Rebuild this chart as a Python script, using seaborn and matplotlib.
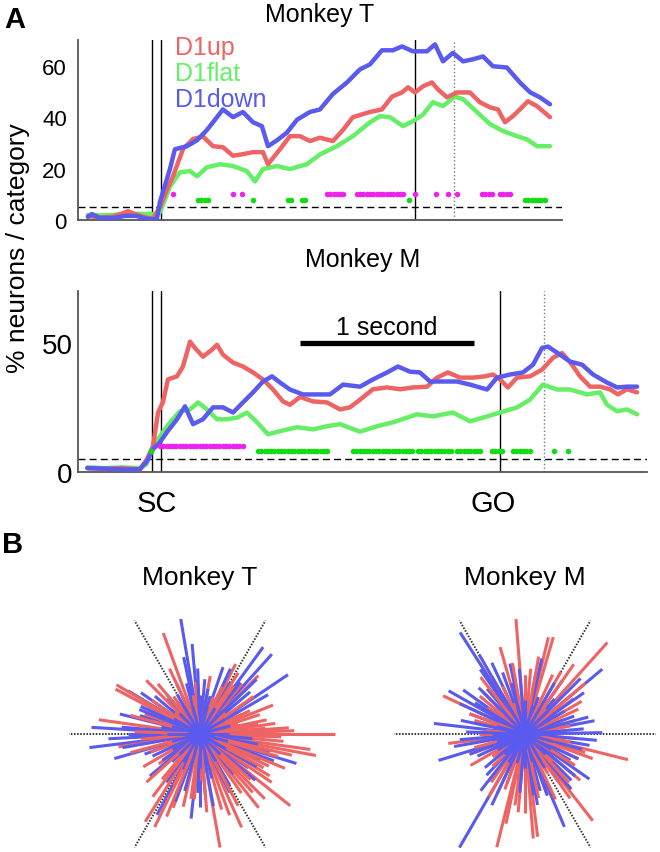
import numpy as np
import pandas as pd
import matplotlib
matplotlib.use("Agg")
import matplotlib.pyplot as plt
import seaborn as sns

# colours
RED = '#EE6464'
GREEN = '#66EE66'
BLUE = '#5A5AEE'
MAG = '#EE22EE'
DOTGREEN = '#11DD11'

# ---------------- Panel A, Monkey T (time in s from SC) ----------------
t_up_T = [-0.397, -0.328, -0.259, -0.201, -0.167, -0.121, -0.069, -0.023, 0.017, 0.052, 0.092,
          0.149, 0.207, 0.264, 0.322, 0.379, 0.437, 0.494, 0.552, 0.609, 0.638, 0.707, 0.764,
          0.822, 0.879, 0.937, 1.011, 1.069, 1.126, 1.224, 1.293, 1.351, 1.408, 1.443, 1.483,
          1.529, 1.580, 1.615, 1.667, 1.724, 1.799, 1.856, 1.914, 1.960, 2.000, 2.046, 2.086,
          2.132, 2.184, 2.259]
v_up_T = [1.5, 1.0, 1.2, 2.5, 3.4, 2.2, 1.0, 0.5, 5, 11, 17,
          27.5, 31.5, 32.5, 28.7, 28.3, 25, 25.6, 26.4, 26.4, 21.7, 27.5, 32.6,
          32.6, 30.7, 32, 30.7, 35, 40, 42, 43, 48, 49.6, 51.6, 49.6,
          52, 53.5, 50.8, 47.7, 49.6, 49.6, 45.8, 43.8, 43, 38, 40.4, 43,
          46.2, 44.3, 40]

t_flat_T = [-0.397, -0.30, -0.20, -0.10, -0.02, 0.017, 0.075, 0.132, 0.190, 0.230, 0.287,
            0.362, 0.437, 0.517, 0.563, 0.609, 0.690, 0.764, 0.862, 0.937, 1.034, 1.126,
            1.224, 1.282, 1.339, 1.414, 1.471, 1.529, 1.586, 1.644, 1.713, 1.759, 1.839,
            1.914, 1.989, 2.069, 2.126, 2.184, 2.259]
v_flat_T = [2, 1.8, 2.2, 2.4, 2.3, 3, 13, 18.6, 19, 17, 20.5,
            21.7, 21, 19, 15, 19.8, 21, 19.8, 21.7, 25.5, 28.7, 32.6,
            38, 40.4, 40, 36.5, 38.4, 41, 45.8, 44.3, 48, 47, 42,
            37.3, 34.6, 32.6, 31.4, 28.7, 28.7]

t_down_T = [-0.397, -0.374, -0.33, -0.25, -0.18, -0.12, -0.06, -0.02, 0.0, 0.017, 0.075,
            0.103, 0.172, 0.230, 0.287, 0.345, 0.379, 0.437, 0.494, 0.552, 0.603, 0.638,
            0.690, 0.747, 0.805, 0.879, 0.937, 1.011, 1.092, 1.167, 1.224, 1.293, 1.356,
            1.408, 1.471, 1.552, 1.598, 1.644, 1.701, 1.759, 1.816, 1.874, 1.931, 2.011,
            2.086, 2.144, 2.201, 2.259]
v_down_T = [1.2, 2.3, 0.8, 0.8, 1.6, 1.6, 0.5, 0.3, 0.5, 7, 20,
            27.5, 28.7, 31, 35, 40, 43, 40, 42, 38, 36.5, 28.7,
            31, 34, 39, 42, 43, 49, 53.5, 58.6, 60.5, 66, 66,
            67.5, 65.6, 65.6, 68.3, 61.7, 65, 61.7, 62.5, 63.6, 59.8, 59.3,
            53.5, 49.7, 47.7, 45]

# significance segments (start, end) in s
sig_mag_T = [(0.092, 0.092), (0.437, 0.437), (0.489, 0.489), (0.977, 1.086), (1.149, 1.425),
             (1.483, 1.483), (1.603, 1.603), (1.672, 1.672), (1.724, 1.724), (1.868, 1.925),
             (1.971, 2.046)]
sig_green_T = [(0.236, 0.293), (0.552, 0.552), (0.753, 0.782), (0.833, 0.862), (1.448, 1.448),
               (2.115, 2.230)]

# ---------------- Panel A, Monkey M ----------------
t_up_M = [-0.40, -0.30, -0.20, -0.098, -0.057, -0.023, 0.006, 0.034, 0.063, 0.115, 0.149,
          0.190, 0.218, 0.264, 0.316, 0.345, 0.379, 0.437, 0.494, 0.552, 0.609, 0.667,
          0.724, 0.764, 0.822, 0.897, 0.977, 1.052, 1.109, 1.167, 1.241, 1.322, 1.397,
          1.471, 1.552, 1.609, 1.672, 1.741, 1.816, 1.885, 1.931, 1.971, 2.017, 2.069,
          2.144, 2.213, 2.276, 2.328, 2.385, 2.431, 2.489, 2.546, 2.603, 2.649, 2.701, 2.759]
v_up_M = [1.5, 1.2, 1.5, 1.0, 5, 10, 23, 27, 35.8, 37, 40.8,
          50.4, 48, 44.6, 47.3, 49.2, 45.4, 42.3, 40.8, 38.5, 35.8, 31.9,
          27.3, 26, 29, 27.3, 26.9, 24.2, 25, 28, 32, 32.7, 32,
          32.7, 33, 36.5, 38.5, 36.5, 36.5, 37, 37.7, 35.8, 32.7, 36.5,
          37, 39.6, 44.2, 46, 41.5, 37, 33, 33, 32, 30, 32, 30.8]

t_flat_M = [-0.40, -0.30, -0.20, -0.10, -0.06, -0.040, 0.017, 0.075, 0.132, 0.190, 0.236,
            0.287, 0.345, 0.402, 0.460, 0.517, 0.575, 0.638, 0.707, 0.805, 0.897, 0.977,
            1.052, 1.167, 1.264, 1.356, 1.494, 1.586, 1.701, 1.799, 1.897, 1.971, 2.069,
            2.144, 2.218, 2.299, 2.374, 2.471, 2.546, 2.586, 2.644, 2.701, 2.759]
v_flat_M = [1.8, 1.5, 1.8, 1.5, 3, 7.7, 13.8, 19.2, 23.5, 24.2, 26.9,
            24.2, 20.4, 20.4, 21, 23, 19.2, 14.6, 15.8, 17.3, 16.5, 17.7,
            18.5, 15.6, 17.7, 19.2, 22.3, 21.5, 23, 19.6, 21.5, 23, 25,
            28, 33.8, 31.9, 31.9, 30, 30.8, 26, 23.5, 24.2, 22.3]

t_down_M = [-0.40, -0.30, -0.20, -0.10, -0.057, -0.023, 0.017, 0.057, 0.115, 0.161, 0.207,
            0.264, 0.322, 0.379, 0.437, 0.494, 0.552, 0.609, 0.661, 0.707, 0.764, 0.839,
            0.920, 0.994, 1.069, 1.167, 1.241, 1.322, 1.385, 1.454, 1.511, 1.569, 1.644,
            1.724, 1.799, 1.897, 1.954, 2.029, 2.103, 2.161, 2.213, 2.247, 2.316, 2.374,
            2.443, 2.506, 2.586, 2.644, 2.701, 2.759]
v_down_M = [1.5, 1.3, 1.0, 1.0, 4.2, 8.8, 11.5, 15.4, 20.4, 25.4, 18.5,
            20.4, 25, 25, 23, 26.9, 30.8, 35, 37, 34.6, 31.9, 30,
            30, 30, 33.8, 33, 35.8, 38.5, 40.8, 38.8, 38.5, 35, 35,
            35, 33.8, 31.9, 36.5, 37.7, 38.5, 41.5, 48, 48.5, 45.4, 42.7,
            41.5, 37.7, 34.6, 32.7, 33, 33]

sig_mag_M = [(0.017, 0.494)]
sig_green_M = [(-0.034, -0.034), (0.580, 0.994), (1.126, 1.471), (1.500, 1.701), (1.724, 1.874),
               (1.925, 2.000), (2.046, 2.144), (2.282, 2.282), (2.362, 2.362)]

# event markers (s)
sc_lines = [-0.03, 0.025]
event_T = 1.483
dotted_T = 1.707
go_M = 1.971
dotted_M = 2.224

# ---------------- Panel B, ray plots (angle deg, length) ----------------
ang_red_T = [110, 0, 2, 4, -2, 349.5, 352, 355, 358, 321.5, 329, 315, 308.5, 280, 294, 286, 238,
             244, 250, 257, 243, 216, 149.5, 152, 172, 189, 135, 21.6, 45, 50, 63, 80, 95, 125,
             160, 200, 230, 265, 300, 340, 10, 30, 15, 70, 180, 335, 326, 270, 120, 205, 140,
             40, 90, 260,
             5, 8, 12, 18, 25, 35, 55, 58, 65, 100, 115, 130, 145, 165, 178, 185, 195, 210,
             222, 233, 248, 262, 275, 290, 298, 305, 312, 318, 332, 338, 344, 347]
len_red_T = [0.82, 1.03, 0.72, 0.68, 0.62, 0.90, 0.85, 0.64, 0.55, 0.88, 0.62, 0.70, 0.72, 0.88,
             0.78, 0.60, 0.79, 0.79, 0.60, 0.57, 0.44, 0.39, 0.74, 0.73, 0.78, 0.63, 0.58, 0.60,
             0.63, 0.50, 0.60, 0.45, 0.40, 0.35, 0.45, 0.40, 0.45, 0.50, 0.45, 0.50, 0.45, 0.35,
             0.30, 0.30, 0.30, 0.58, 0.66, 0.35, 0.25, 0.25, 0.25, 0.25, 0.20, 0.25,
             0.50, 0.58, 0.52, 0.48, 0.42, 0.50, 0.45, 0.55, 0.40, 0.30, 0.55, 0.50, 0.45, 0.55,
             0.50, 0.45, 0.55, 0.50, 0.55, 0.60, 0.68, 0.50, 0.60, 0.66, 0.62, 0.55, 0.60, 0.52,
             0.55, 0.70, 0.62, 0.72]
ang_blue_T = [99.5, 95, 54, 48, 34, 71, 176.5, 187, 196, 166, 343, 264, 270, 242, 149, 115, 11,
              337, 345, 297, 280.5, 134, 163, 60, 40, 25, 85, 105, 125, 140, 155, 180, 200, 215,
              225, 255, 285, 310, 325, 355, 5, 75, 90, 170, 245, 290,
              30, 44, 52, 65, 80, 92, 102, 120, 130, 145, 158, 175, 183, 190, 205, 220, 235,
              250, 268, 275, 300, 320, 330, 340, 350,
              0, 15, 30, 45, 60, 75, 90, 105, 120, 135, 150, 165, 180, 195, 210, 225, 240, 255,
              270, 285, 300, 315, 330, 345]
len_blue_T = [0.89, 0.69, 0.82, 0.82, 0.81, 0.54, 0.83, 0.85, 0.68, 0.63, 0.77, 0.65, 0.56, 0.70,
              0.64, 0.42, 0.40, 0.50, 0.55, 0.50, 0.56, 0.37, 0.48, 0.45, 0.50, 0.35, 0.42, 0.40,
              0.30, 0.45, 0.50, 0.55, 0.45, 0.35, 0.30, 0.45, 0.35, 0.40, 0.45, 0.40, 0.30, 0.30,
              0.30, 0.30, 0.30, 0.30,
              0.60, 0.60, 0.50, 0.55, 0.35, 0.50, 0.60, 0.35, 0.40, 0.55, 0.50, 0.60, 0.70, 0.60,
              0.40, 0.50, 0.45, 0.55, 0.45, 0.50, 0.45, 0.55, 0.50, 0.60, 0.45,
              0.22, 0.24, 0.22, 0.25, 0.23, 0.22, 0.26, 0.22, 0.24, 0.22, 0.23, 0.22, 0.25, 0.22,
              0.24, 0.22, 0.25, 0.23, 0.26, 0.22, 0.24, 0.22, 0.23, 0.22]

ang_red_M = [94.5, 48, 73.7, 76.4, 106, 155, 346, 308, 256, 274.5, 277, 210, 187, 36, 343, 60,
             30, 120, 135, 165, 200, 225, 240, 265, 290, 320, 335, 355, 10, 20, 85, 100, 145,
             175, 250, 300, 315, 5, 50, 110, 230,
             40, 55, 65, 80, 90, 115, 128, 140, 160, 180, 195, 215, 235, 245, 258, 262, 270,
             282, 295, 305, 312, 328, 340, 350, 15, 25]
len_red_M = [0.88, 0.94, 0.77, 0.76, 0.69, 0.69, 0.81, 0.84, 0.89, 0.80, 0.79, 0.48, 0.59, 0.46,
             0.48, 0.55, 0.50, 0.50, 0.45, 0.40, 0.45, 0.35, 0.55, 0.60, 0.50, 0.55, 0.45, 0.40,
             0.35, 0.30, 0.50, 0.55, 0.35, 0.30, 0.45, 0.35, 0.30, 0.20, 0.25, 0.25, 0.20,
             0.60, 0.65, 0.50, 0.60, 0.45, 0.40, 0.55, 0.45, 0.45, 0.35, 0.40, 0.30, 0.45, 0.50,
             0.70, 0.55, 0.60, 0.50, 0.55, 0.60, 0.50, 0.45, 0.55, 0.35, 0.40, 0.45]
ang_blue_M = [122.6, 40, 173.4, 197, 240, 325, 1, 10.8, 124.7, 102, 77.5, 150.5, 144.5, 293, 278,
              270, 227, 60, 90, 110, 130, 160, 185, 205, 250, 260, 285, 305, 315, 335, 350, 20,
              30, 50, 70, 140, 215, 300,
              35, 45, 55, 80, 95, 105, 115, 120, 135, 148, 155, 168, 178, 190, 200, 220, 232,
              245, 265, 280, 290, 310, 320, 330, 345, 355, 5, 15,
              0, 15, 30, 45, 60, 75, 90, 105, 120, 135, 150, 165, 180, 195, 210, 225, 240, 255,
              270, 285, 300, 315, 330, 345]
len_blue_M = [0.92, 0.77, 0.70, 0.69, 1.00, 0.60, 0.59, 0.54, 0.60, 0.55, 0.59, 0.67, 0.58, 0.77,
              0.47, 0.50, 0.43, 0.45, 0.45, 0.50, 0.45, 0.45, 0.50, 0.40, 0.40, 0.35, 0.45, 0.45,
              0.50, 0.45, 0.50, 0.40, 0.35, 0.35, 0.30, 0.30, 0.30, 0.30,
              0.55, 0.60, 0.50, 0.45, 0.50, 0.40, 0.60, 0.70, 0.50, 0.45, 0.55, 0.50, 0.45, 0.55,
              0.45, 0.40, 0.55, 0.60, 0.45, 0.55, 0.50, 0.55, 0.50, 0.40, 0.45, 0.55, 0.45, 0.50,
              0.22, 0.24, 0.22, 0.25, 0.23, 0.22, 0.26, 0.22, 0.24, 0.22, 0.23, 0.22, 0.25, 0.22,
              0.24, 0.22, 0.25, 0.23, 0.26, 0.22, 0.24, 0.22, 0.23, 0.22]

# ------------------------------------------------------------------
sns.set_style("white")
plt.rcParams['font.family'] = ['Liberation Sans', 'DejaVu Sans']
plt.rcParams['text.color'] = 'black'
plt.rcParams['axes.labelcolor'] = 'black'
plt.rcParams['xtick.color'] = 'black'
plt.rcParams['ytick.color'] = 'black'

W, H = 660, 853
fig = plt.figure(figsize=(W / 100, H / 100), dpi=100)


def box(left, top, right, bottom):
    return [left / W, 1 - bottom / H, (right - left) / W, (bottom - top) / H]


def curves_df(series):
    rows = []
    for name, ts, vs in series:
        rows.append(pd.DataFrame({'t': ts, 'pct': vs, 'cat': name}))
    return pd.concat(rows, ignore_index=True)


def sig_df(segments, yval, step=0.019):
    pts = []
    for a, b in segments:
        pts.extend(np.arange(a, b + 1e-9, step))
    return pd.DataFrame({'t': pts, 'y': yval})


def panel_a(ax, df, mag, grn, ymag, ygrn, xmax):
    for x in sc_lines:
        ax.axvline(x, color='black', lw=1.0, zorder=1)
    ax.axhline(5, color='black', lw=1.0, dashes=(5, 3), zorder=1)
    sns.lineplot(data=df, x='t', y='pct', hue='cat', estimator=None, sort=False,
                 palette={'D1up': RED, 'D1flat': GREEN, 'D1down': BLUE},
                 hue_order=['D1flat', 'D1up', 'D1down'], lw=3.2, legend=False, ax=ax, zorder=3)
    sns.scatterplot(data=sig_df(mag, ymag), x='t', y='y', color=MAG, s=16, linewidth=0, ax=ax, zorder=4)
    sns.scatterplot(data=sig_df(grn, ygrn), x='t', y='y', color=DOTGREEN, s=16, linewidth=0, ax=ax, zorder=4)
    ax.set_xlim(-0.454, xmax)
    ax.set_ylim(0, 70)
    ax.set_xlabel('')
    ax.set_ylabel('')
    sns.despine(ax=ax)
    for s in ['left', 'bottom']:
        ax.spines[s].set_color('#555555')
        ax.spines[s].set_linewidth(1.3)


# top panel
axT = fig.add_axes(box(78, 41, 562, 221))
dfT = curves_df([('D1up', t_up_T, v_up_T), ('D1flat', t_flat_T, v_flat_T), ('D1down', t_down_T, v_down_T)])
panel_a(axT, dfT, sig_mag_T, sig_green_T, 10, 7.7, 2.328)
axT.axvline(event_T, color='black', lw=1.0, zorder=1)
axT.axvline(dotted_T, color='#777777', lw=1.0, ls=':', zorder=1)
axT.set_yticks([0, 20, 40, 60])
axT.set_xticks([])
axT.tick_params(axis='y', direction='in', length=4, labelsize=16, pad=8)
axT.set_title('Monkey T', fontsize=18, pad=14)

# bottom panel
axM = fig.add_axes(box(78, 292, 647, 473))
dfM = curves_df([('D1up', t_up_M, v_up_M), ('D1flat', t_flat_M, v_flat_M), ('D1down', t_down_M, v_down_M)])
panel_a(axM, dfM, sig_mag_M, sig_green_M, 10, 8, 2.816)
axM.axvline(go_M, color='black', lw=1.0, zorder=1)
axM.axvline(dotted_M, color='#777777', lw=1.0, ls=':', zorder=1)
axM.set_yticks([0, 50])
axM.set_xticks([0.0, 1.93])
axM.set_xticklabels(['SC', 'GO'])
axM.tick_params(axis='y', direction='in', length=4, labelsize=20, pad=4)
axM.tick_params(axis='x', length=0, labelsize=21, pad=12)
axM.set_title('Monkey M', fontsize=18, pad=18)
# 1 second scale bar
axM.plot([0.822, 1.822], [50, 50], color='black', lw=3.8, solid_capstyle='butt')
axM.text(1.32, 51.5, '1 second', ha='center', va='bottom', fontsize=18)

# legend texts
for name, col, base in [('D1up', RED, 55), ('D1flat', GREEN, 81), ('D1down', BLUE, 107)]:
    fig.text(175 / W, 1 - base / H, name, color=col, fontsize=18, va='baseline', ha='left')

fig.text(18 / W, 1 - 248 / H, '% neurons / category', rotation=90, fontsize=19,
         ha='center', va='center')
fig.text(4 / W, 1 - 6 / H, 'A', fontsize=21, fontweight='bold', va='top', ha='left')
fig.text(2 / W, 1 - 531 / H, 'B', fontsize=21, fontweight='bold', va='top', ha='left')


# panel B stars
def star(cx, left, right, cy, angs_r, lens_r, angs_b, lens_b, title):
    unit = 131.0
    top, bottom = 592, 853
    ax = fig.add_axes(box(left, top, right, bottom))
    ax.set_xlim((left - cx) / unit, (right - cx) / unit)
    ax.set_ylim(-(bottom - cy) / unit, (cy - top) / unit)
    ax.axis('off')
    for a in [0, 60, 120, 180, 240, 300]:
        r = np.deg2rad(a)
        ax.plot([0, np.cos(r)], [0, np.sin(r)], color='#333333', lw=1.4,
                ls=(0, (0.8, 0.8)), zorder=1)
    red_rays = list(zip(angs_r, lens_r))
    blue_rays = list(zip(angs_b, lens_b))
    # interleave the two colours so neither sits entirely on top
    n = max(len(red_rays), len(blue_rays))
    order = []
    for i in range(n):
        if i < len(red_rays):
            order.append((red_rays[i], RED))
        if i < len(blue_rays):
            order.append((blue_rays[i], BLUE))
    for (a, L), col in order:
        th = np.deg2rad(a)
        z = 3 if (col == BLUE and L < 0.27) else 2   # dense blue core on top
        ax.plot([0, L * np.cos(th)], [0, L * np.sin(th)], color=col, lw=2.2,
                solid_capstyle='butt', zorder=z)
    fig.text(cx / W, 1 - 585 / H, title, fontsize=19, ha='center', va='baseline')


star(200, 55, 345, 735, ang_red_T, len_red_T, ang_blue_T, len_blue_T, 'Monkey T')
star(525, 380, 660, 735, ang_red_M, len_red_M, ang_blue_M, len_blue_M, 'Monkey M')

fig.savefig('out.png', dpi=100)
